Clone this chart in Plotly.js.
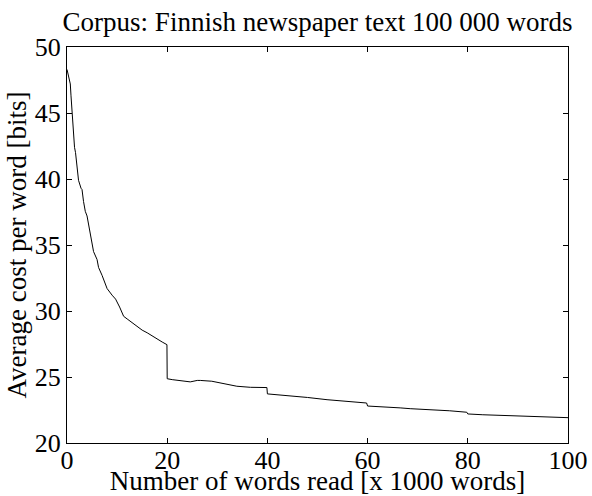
<!DOCTYPE html>
<html>
<head>
<meta charset="utf-8">
<script src="https://cdn.plot.ly/plotly-3.0.1.min.js"></script>
<style>html,body{margin:0;padding:0;background:#fff;}#chart{width:592px;height:496px;}</style>
</head>
<body>
<div id="chart"></div>
<script>
const wordsRead = [0, 0.3, 0.5, 0.66, 0.8, 1, 1.3, 1.5, 1.7, 2, 2.3, 2.8, 3, 3.3, 3.65, 4, 4.65, 5.3, 6, 6.3, 7, 8, 9, 9.7, 10.5, 11.3, 12, 13, 14, 15, 16, 17, 18, 19, 19.95, 20, 21, 22, 23, 24.6, 26, 26.6, 28.9, 31.2, 33.9, 36.6, 39.9, 40, 42, 43.9, 45.2, 48, 51.9, 56.5, 59.8, 60, 63.8, 66.5, 68.5, 73.1, 76.4, 79.8, 80, 83, 86.4, 90, 93.1, 96, 100];
const avgCost = [48.3, 47.8, 47.6, 47.2, 46.3, 45.1, 43.0, 42.4, 42.0, 40.9, 39.9, 39.3, 39.2, 38.3, 37.55, 37.2, 35.9, 34.5, 33.9, 33.3, 32.7, 31.7, 31.2, 30.9, 30.3, 29.6, 29.4, 29.1, 28.8, 28.55, 28.35, 28.1, 27.85, 27.65, 27.45, 24.87, 24.8, 24.74, 24.7, 24.63, 24.74, 24.74, 24.68, 24.5, 24.3, 24.22, 24.2, 23.72, 23.66, 23.62, 23.58, 23.45, 23.28, 23.15, 23.03, 22.8, 22.74, 22.66, 22.6, 22.52, 22.44, 22.33, 22.2, 22.14, 22.09, 22.06, 22.02, 21.98, 21.92];
const xTicks = [0, 20, 40, 60, 80, 100];
const yTicks = [20, 25, 30, 35, 40, 45, 50];
const titleText = 'Corpus: Finnish newspaper text 100 000 words';
const xTitle = 'Number of words read [x 1000 words]';
const yTitle = 'Average cost per word [bits]';

const font = "'Liberation Serif', 'Times New Roman', serif";
Plotly.newPlot('chart', [{
  x: wordsRead, y: avgCost, type: 'scatter', mode: 'lines',
  line: {color: '#000', width: 1}, hoverinfo: 'skip'
}], {
  width: 592, height: 496,
  margin: {l: 67, r: 24, t: 47, b: 53},
  paper_bgcolor: '#fff', plot_bgcolor: '#fff',
  showlegend: false,
  font: {family: font, color: '#000', size: 26},
  title: {text: titleText, font: {family: font, size: 27, color: '#000'}, x: 0.5365, xanchor: 'center', y: 0.957, yanchor: 'middle'},
  xaxis: {
    range: [0, 100], tickvals: xTicks, ticktext: xTicks.map(String),
    ticks: 'inside', ticklen: 5, tickcolor: '#000', showgrid: false, zeroline: false,
    showline: true, linecolor: '#000', linewidth: 1, mirror: 'ticks',
    ticklabelstandoff: -6,
    tickfont: {family: font, size: 26, color: '#000'},
    title: {text: xTitle, font: {family: font, size: 27, color: '#000'}, standoff: 0}
  },
  yaxis: {
    range: [20, 50], tickvals: yTicks, ticktext: yTicks.map(String),
    ticks: 'inside', ticklen: 5, tickcolor: '#000', showgrid: false, zeroline: false,
    showline: true, linecolor: '#000', linewidth: 1, mirror: 'ticks',
    tickfont: {family: font, size: 26, color: '#000'},
    title: {text: yTitle, font: {family: font, size: 27, color: '#000'}, standoff: 0}
  }
}, {displayModeBar: false, staticPlot: true});
</script>
</body>
</html>
